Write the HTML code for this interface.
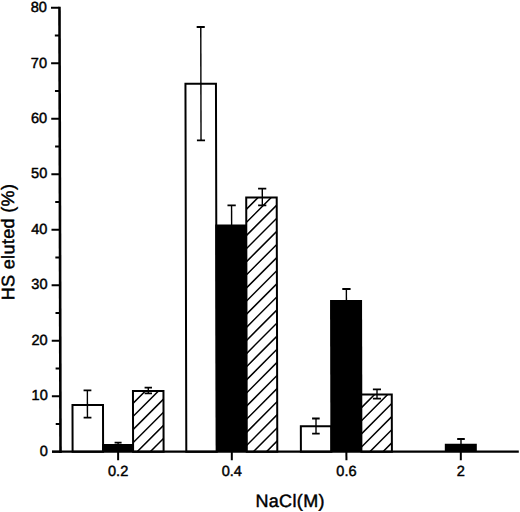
<!DOCTYPE html><html><head><meta charset="utf-8"><style>html,body{margin:0;padding:0;background:#fff;}svg{display:block;}text{font-family:"Liberation Sans",sans-serif;fill:#000;stroke:#000;stroke-width:0.45px;}.t{font-size:14.6px;}.ti{font-size:18px;letter-spacing:0.35px;}</style></head><body>
<svg width="520" height="512" viewBox="0 0 520 512">
<rect x="0" y="0" width="520" height="512" fill="#fff"/>
<g transform="translate(-1.039,0) skewX(0.1318)">
<defs>
<clipPath id="c0"><rect x="133.10" y="391.00" width="30.50" height="60.70"/></clipPath>
<clipPath id="c1"><rect x="246.80" y="197.50" width="30.50" height="254.20"/></clipPath>
<clipPath id="c2"><rect x="361.40" y="394.50" width="30.50" height="57.20"/></clipPath>
</defs>
<rect x="72.60" y="405.00" width="30.50" height="46.70" fill="#fff" stroke="#000" stroke-width="2"/>
<rect x="102.10" y="444.00" width="32.00" height="7.70" fill="#000"/>
<rect x="133.10" y="391.00" width="30.50" height="60.70" fill="#fff"/>
<path clip-path="url(#c0)" d="M128.10 395.30L168.60 354.80M128.10 408.40L168.60 367.90M128.10 421.50L168.60 381.00M128.10 434.60L168.60 394.10M128.10 447.70L168.60 407.20M128.10 460.80L168.60 420.30M128.10 473.90L168.60 433.40M128.10 487.00L168.60 446.50M128.10 500.10L168.60 459.60" stroke="#000" stroke-width="1.5" fill="none"/>
<rect x="133.10" y="391.00" width="30.50" height="60.70" fill="none" stroke="#000" stroke-width="2"/>
<rect x="186.30" y="83.80" width="30.50" height="367.90" fill="#fff" stroke="#000" stroke-width="2"/>
<rect x="215.80" y="224.40" width="32.00" height="227.30" fill="#000"/>
<rect x="246.80" y="197.50" width="30.50" height="254.20" fill="#fff"/>
<path clip-path="url(#c1)" d="M241.80 201.30L282.30 160.80M241.80 214.40L282.30 173.90M241.80 227.50L282.30 187.00M241.80 240.60L282.30 200.10M241.80 253.70L282.30 213.20M241.80 266.80L282.30 226.30M241.80 279.90L282.30 239.40M241.80 293.00L282.30 252.50M241.80 306.10L282.30 265.60M241.80 319.20L282.30 278.70M241.80 332.30L282.30 291.80M241.80 345.40L282.30 304.90M241.80 358.50L282.30 318.00M241.80 371.60L282.30 331.10M241.80 384.70L282.30 344.20M241.80 397.80L282.30 357.30M241.80 410.90L282.30 370.40M241.80 424.00L282.30 383.50M241.80 437.10L282.30 396.60M241.80 450.20L282.30 409.70M241.80 463.30L282.30 422.80M241.80 476.40L282.30 435.90M241.80 489.50L282.30 449.00" stroke="#000" stroke-width="1.5" fill="none"/>
<rect x="246.80" y="197.50" width="30.50" height="254.20" fill="none" stroke="#000" stroke-width="2"/>
<rect x="300.90" y="426.30" width="30.50" height="25.40" fill="#fff" stroke="#000" stroke-width="2"/>
<rect x="330.40" y="300.00" width="32.00" height="151.70" fill="#000"/>
<rect x="361.40" y="394.50" width="30.50" height="57.20" fill="#fff"/>
<path clip-path="url(#c2)" d="M356.40 386.60L396.90 346.10M356.40 399.70L396.90 359.20M356.40 412.80L396.90 372.30M356.40 425.90L396.90 385.40M356.40 439.00L396.90 398.50M356.40 452.10L396.90 411.60M356.40 465.20L396.90 424.70M356.40 478.30L396.90 437.80M356.40 491.40L396.90 450.90" stroke="#000" stroke-width="1.5" fill="none"/>
<rect x="361.40" y="394.50" width="30.50" height="57.20" fill="none" stroke="#000" stroke-width="2"/>
<rect x="444.80" y="443.70" width="32.00" height="8.00" fill="#000"/>
<line x1="87.51" y1="390.40" x2="87.51" y2="418.10" stroke="#000" stroke-width="1.4"/>
<line x1="83.71" y1="390.40" x2="91.51" y2="390.40" stroke="#000" stroke-width="1.8"/>
<line x1="83.71" y1="417.60" x2="91.51" y2="417.60" stroke="#000" stroke-width="1.8"/>
<line x1="118.12" y1="442.60" x2="118.12" y2="444.50" stroke="#000" stroke-width="1.4"/>
<line x1="114.62" y1="442.60" x2="121.62" y2="442.60" stroke="#000" stroke-width="1.8"/>
<line x1="148.44" y1="387.60" x2="148.44" y2="393.90" stroke="#000" stroke-width="1.4"/>
<line x1="144.74" y1="387.60" x2="152.14" y2="387.60" stroke="#000" stroke-width="1.8"/>
<line x1="144.74" y1="393.40" x2="152.14" y2="393.40" stroke="#000" stroke-width="1.8"/>
<line x1="201.75" y1="27.00" x2="201.75" y2="140.80" stroke="#000" stroke-width="1.4"/>
<line x1="197.65" y1="27.00" x2="205.75" y2="27.00" stroke="#000" stroke-width="1.8"/>
<line x1="197.65" y1="140.30" x2="205.75" y2="140.30" stroke="#000" stroke-width="1.8"/>
<line x1="232.14" y1="205.30" x2="232.14" y2="224.90" stroke="#000" stroke-width="1.4"/>
<line x1="228.04" y1="205.30" x2="236.34" y2="205.30" stroke="#000" stroke-width="1.8"/>
<line x1="262.89" y1="188.60" x2="262.89" y2="205.80" stroke="#000" stroke-width="1.4"/>
<line x1="258.69" y1="188.60" x2="266.89" y2="188.60" stroke="#000" stroke-width="1.8"/>
<line x1="258.69" y1="205.30" x2="266.89" y2="205.30" stroke="#000" stroke-width="1.8"/>
<line x1="316.06" y1="418.50" x2="316.06" y2="434.10" stroke="#000" stroke-width="1.4"/>
<line x1="312.16" y1="418.50" x2="319.76" y2="418.50" stroke="#000" stroke-width="1.8"/>
<line x1="312.16" y1="433.60" x2="319.76" y2="433.60" stroke="#000" stroke-width="1.8"/>
<line x1="346.76" y1="289.00" x2="346.76" y2="300.50" stroke="#000" stroke-width="1.4"/>
<line x1="342.66" y1="289.00" x2="350.96" y2="289.00" stroke="#000" stroke-width="1.8"/>
<line x1="377.13" y1="389.30" x2="377.13" y2="399.10" stroke="#000" stroke-width="1.4"/>
<line x1="373.03" y1="389.30" x2="381.13" y2="389.30" stroke="#000" stroke-width="1.8"/>
<line x1="373.03" y1="398.60" x2="381.13" y2="398.60" stroke="#000" stroke-width="1.8"/>
<line x1="461.02" y1="439.00" x2="461.02" y2="444.20" stroke="#000" stroke-width="1.4"/>
<line x1="457.22" y1="439.00" x2="464.82" y2="439.00" stroke="#000" stroke-width="1.8"/>
<line x1="60.5" y1="6.8" x2="60.5" y2="452.9" stroke="#000" stroke-width="2.6"/>
<line x1="52" y1="451.7" x2="518.8" y2="451.7" stroke="#000" stroke-width="2.3"/>
<line x1="52" y1="451.70" x2="60.5" y2="451.70" stroke="#000" stroke-width="2"/>
<text x="47.90" y="455.90" class="t" text-anchor="end">0</text>
<line x1="55.8" y1="423.96" x2="60.5" y2="423.96" stroke="#000" stroke-width="2"/>
<line x1="52" y1="396.22" x2="60.5" y2="396.22" stroke="#000" stroke-width="2"/>
<text x="47.90" y="400.42" class="t" text-anchor="end">10</text>
<line x1="55.8" y1="368.48" x2="60.5" y2="368.48" stroke="#000" stroke-width="2"/>
<line x1="52" y1="340.74" x2="60.5" y2="340.74" stroke="#000" stroke-width="2"/>
<text x="47.90" y="344.94" class="t" text-anchor="end">20</text>
<line x1="55.8" y1="313.00" x2="60.5" y2="313.00" stroke="#000" stroke-width="2"/>
<line x1="52" y1="285.26" x2="60.5" y2="285.26" stroke="#000" stroke-width="2"/>
<text x="47.90" y="289.46" class="t" text-anchor="end">30</text>
<line x1="55.8" y1="257.52" x2="60.5" y2="257.52" stroke="#000" stroke-width="2"/>
<line x1="52" y1="229.78" x2="60.5" y2="229.78" stroke="#000" stroke-width="2"/>
<text x="47.90" y="233.98" class="t" text-anchor="end">40</text>
<line x1="55.8" y1="202.04" x2="60.5" y2="202.04" stroke="#000" stroke-width="2"/>
<line x1="52" y1="174.30" x2="60.5" y2="174.30" stroke="#000" stroke-width="2"/>
<text x="47.90" y="178.50" class="t" text-anchor="end">50</text>
<line x1="55.8" y1="146.56" x2="60.5" y2="146.56" stroke="#000" stroke-width="2"/>
<line x1="52" y1="118.82" x2="60.5" y2="118.82" stroke="#000" stroke-width="2"/>
<text x="47.90" y="123.02" class="t" text-anchor="end">60</text>
<line x1="55.8" y1="91.08" x2="60.5" y2="91.08" stroke="#000" stroke-width="2"/>
<line x1="52" y1="63.34" x2="60.5" y2="63.34" stroke="#000" stroke-width="2"/>
<text x="47.90" y="67.54" class="t" text-anchor="end">70</text>
<line x1="55.8" y1="35.60" x2="60.5" y2="35.60" stroke="#000" stroke-width="2"/>
<line x1="52" y1="7.86" x2="60.5" y2="7.86" stroke="#000" stroke-width="2"/>
<text x="47.90" y="12.06" class="t" text-anchor="end">80</text>
<line x1="118.10" y1="451.7" x2="118.10" y2="460.3" stroke="#000" stroke-width="2"/>
<text x="118.10" y="476.2" class="t" text-anchor="middle">0.2</text>
<line x1="231.80" y1="451.7" x2="231.80" y2="460.3" stroke="#000" stroke-width="2"/>
<text x="231.80" y="476.2" class="t" text-anchor="middle">0.4</text>
<line x1="346.40" y1="451.7" x2="346.40" y2="460.3" stroke="#000" stroke-width="2"/>
<text x="346.40" y="476.2" class="t" text-anchor="middle">0.6</text>
<line x1="460.80" y1="451.7" x2="460.80" y2="460.3" stroke="#000" stroke-width="2"/>
<text x="460.80" y="476.2" class="t" text-anchor="middle">2</text>
<text x="290.0" y="506.8" class="ti" text-anchor="middle">NaCl(M)</text>
<text transform="translate(14.6,242.0) rotate(-90)" class="ti" text-anchor="middle">HS eluted (%)</text>
</g>
</svg></body></html>
